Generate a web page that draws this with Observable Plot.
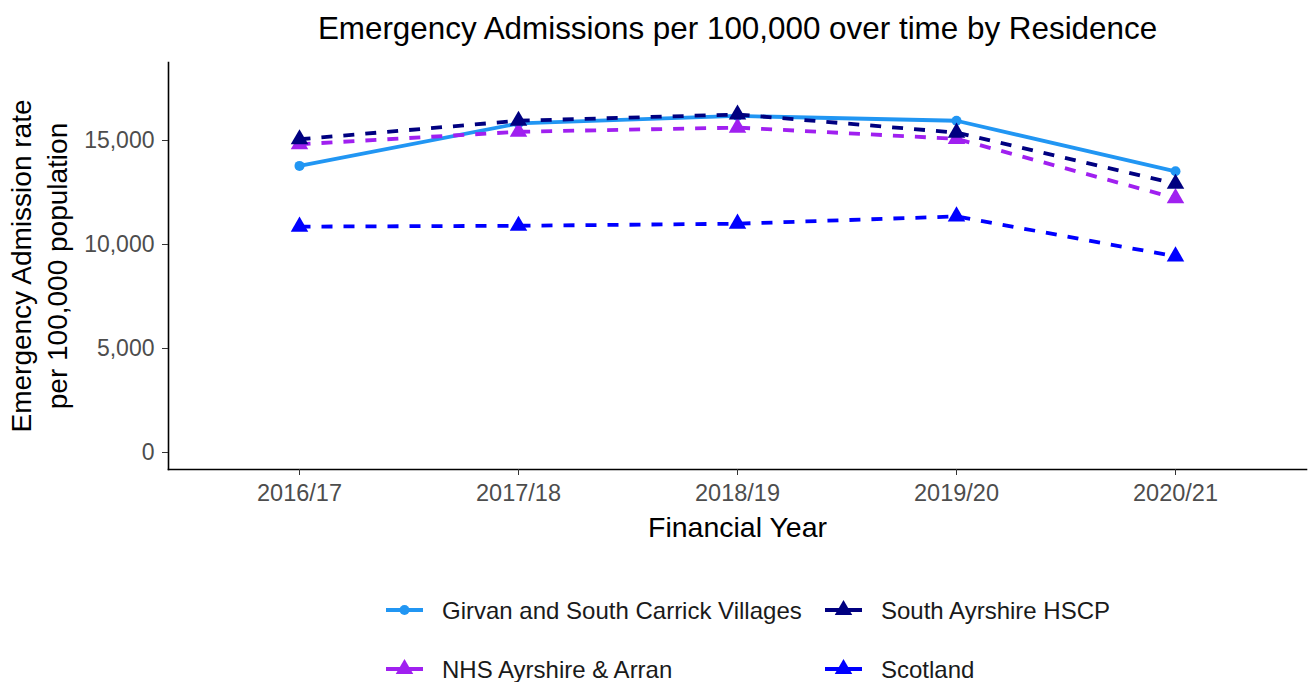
<!DOCTYPE html>
<html>
<head>
<meta charset="utf-8">
<script src="https://cdn.jsdelivr.net/npm/d3@7"></script>
<script src="https://cdn.jsdelivr.net/npm/@observablehq/plot@0.6"></script>
<style>
  html, body { margin: 0; padding: 0; background: #fff; }
  #chart { width: 1313px; height: 682px; overflow: hidden; }
</style>
</head>
<body>
<div id="chart"></div>
<script>
const years = ["2016/17", "2017/18", "2018/19", "2019/20", "2020/21"];
const seriesNames = ["Girvan and South Carrick Villages", "NHS Ayrshire & Arran", "South Ayrshire HSCP", "Scotland"];
const girvan = [13780, 15820, 16180, 15950, 13520];
const nhsAyrshire = [14820, 15420, 15620, 15080, 12230];
const southAyrshire = [15060, 15950, 16250, 15380, 12920];
const scotland = [10860, 10900, 11000, 11350, 9430];
const seriesColors = ["#2196F3", "#A020F0", "#000080", "#0000FF"];
const seriesDash = [null, "11,11", "11,11", "11,11"];
const seriesSymbol = ["circle", "triangle", "triangle", "triangle"];
const yTicks = [0, 5000, 10000, 15000];
const titleText = "Emergency Admissions per 100,000 over time by Residence";
const xTitle = "Financial Year";
const yTitle = "Emergency Admission rate\nper 100,000 population";

const valuesBySeries = [girvan, nhsAyrshire, southAyrshire, scotland];
const data = [];
seriesNames.forEach((s, i) => years.forEach((y, j) => data.push({series: s, year: y, value: valuesBySeries[i][j]})));

const font = "Liberation Sans, Arial, Helvetica, sans-serif";
const fmt = d3.format(",");
const marks = [];
seriesNames.forEach((s, i) => {
  const d = data.filter(r => r.series === s);
  marks.push(Plot.line(d, {x: "year", y: "value", stroke: seriesColors[i], strokeWidth: 3.8, strokeDasharray: seriesDash[i], strokeLinecap: "butt"}));
  marks.push(Plot.dot(d, {x: "year", y: "value", fill: seriesColors[i], stroke: "none", symbol: seriesSymbol[i], r: seriesSymbol[i] === "circle" ? 5 : 6.5}));
});

const plot = Plot.plot({
  width: 1313,
  height: 682,
  marginTop: 62,
  marginBottom: 213,
  marginLeft: 168,
  marginRight: 7,
  style: {fontFamily: font, background: "white"},
  x: {type: "point", domain: years, padding: 0.59, label: null},
  y: {domain: [-817, 18750], label: null},
  marks: [
    Plot.frame({anchor: "left", stroke: "#000", strokeWidth: 1.6}),
    Plot.frame({anchor: "bottom", stroke: "#000", strokeWidth: 1.6}),
    Plot.axisY(yTicks, {tickSize: 6, tickPadding: 8, tickFormat: fmt, fontSize: 23, color: "#4d4d4d", stroke: "#333", label: null}),
    Plot.axisX(years, {tickSize: 6, tickPadding: 9, fontSize: 23.5, color: "#4d4d4d", stroke: "#333", label: null}),
    Plot.text([titleText], {frameAnchor: "top", dy: -46, fontSize: 31.4, fill: "#000"}),
    Plot.text([xTitle], {frameAnchor: "bottom", dy: 67, fontSize: 28.5, fill: "#000"}),
    Plot.text([yTitle], {frameAnchor: "left", dx: -131, rotate: -90, textAnchor: "middle", fontSize: 28, fill: "#000", lineHeight: 1.3}),
    ...marks
  ]
});
document.getElementById("chart").appendChild(plot);

// Legend (2 x 2, column-major)
const svg = d3.select(plot);
const legKeyX = [386, 386, 825, 825];
const legRowY = [610, 669, 610, 669];
const g = svg.append("g").attr("font-family", font).attr("font-size", 24).attr("text-anchor", "start");
seriesNames.forEach((s, i) => {
  const x0 = legKeyX[i], y0 = legRowY[i];
  const item = g.append("g").attr("transform", `translate(${x0},${y0})`);
  item.append("line").attr("x1", 0).attr("x2", 37).attr("y1", 0).attr("y2", 0)
    .attr("stroke", seriesColors[i]).attr("stroke-width", 3.8);
  const sym = seriesSymbol[i] === "circle" ? d3.symbolCircle : d3.symbolTriangle;
  const size = seriesSymbol[i] === "circle" ? Math.PI * 25 : Math.PI * 6.5 * 6.5;
  item.append("path").attr("transform", "translate(18.5,0)")
    .attr("d", d3.symbol(sym, size)()).attr("fill", seriesColors[i]);
  item.append("text").attr("x", 56).attr("y", 9).attr("text-anchor", "start").attr("fill", "#1a1a1a").text(s);
});
</script>
</body>
</html>
